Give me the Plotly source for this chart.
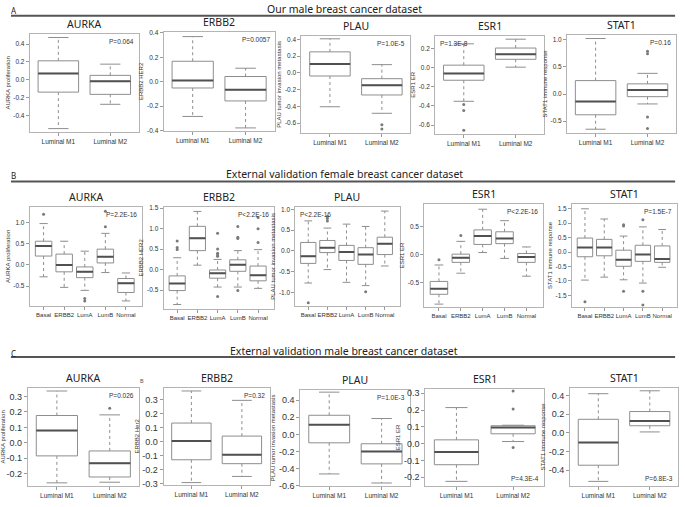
import plotly.graph_objects as go

# ---------------- DATA ----------------
M_GROUPS = ["Luminal M1", "Luminal M2"]
F_GROUPS = ["Basal", "ERBB2", "LumA", "LumB", "Normal"]

# Row A : Our male breast cancer dataset
A_AURKA_lo = [-0.543, -0.272]; A_AURKA_q1 = [-0.136, -0.161]; A_AURKA_med = [0.073, -0.015]
A_AURKA_q3 = [0.213, 0.051]; A_AURKA_hi = [0.473, 0.176]
A_AURKA_ox = []; A_AURKA_oy = []

A_ERBB2_lo = [-0.284, -0.378]; A_ERBB2_q1 = [-0.051, -0.157]; A_ERBB2_med = [0.011, -0.065]
A_ERBB2_q3 = [0.168, 0.043]; A_ERBB2_hi = [0.370, 0.111]
A_ERBB2_ox = []; A_ERBB2_oy = []

A_PLAU_lo = [-0.405, -0.483]; A_PLAU_q1 = [-0.037, -0.264]; A_PLAU_med = [0.107, -0.147]
A_PLAU_q3 = [0.252, -0.069]; A_PLAU_hi = [0.408, 0.099]
A_PLAU_ox = [1, 1]; A_PLAU_oy = [-0.62, -0.67]

A_ESR1_lo = [-0.352, 0.003]; A_ESR1_q1 = [-0.133, 0.085]; A_ESR1_med = [-0.062, 0.137]
A_ESR1_q3 = [0.024, 0.202]; A_ESR1_hi = [0.246, 0.294]
A_ESR1_ox = [0, 0, 0]; A_ESR1_oy = [-0.386, -0.448, -0.653]

A_STAT1_lo = [-0.648, -0.182]; A_STAT1_q1 = [-0.382, -0.048]; A_STAT1_med = [-0.139, 0.073]
A_STAT1_q3 = [0.248, 0.188]; A_STAT1_hi = [1.024, 0.382]
A_STAT1_ox = [1, 1, 1, 1]; A_STAT1_oy = [0.79, 0.745, -0.424, -0.636]

# Row B : External validation female breast cancer dataset
B_AURKA_lo = [-0.28, -0.53, -0.60, -0.18, -0.85]; B_AURKA_q1 = [0.21, -0.163, -0.30, 0.047, -0.65]
B_AURKA_med = [0.45, 0.0, -0.163, 0.194, -0.43]; B_AURKA_q3 = [0.56, 0.256, -0.047, 0.373, -0.32]
B_AURKA_hi = [0.977, 0.56, 0.326, 0.746, -0.19]
B_AURKA_ox = [0, 2, 2, 3, 3]; B_AURKA_oy = [1.2, -0.79, -0.85, 0.90, 1.27]

B_ERBB2_lo = [-0.85, 0.11, -0.424, -0.424, -0.456]; B_ERBB2_q1 = [-0.51, 0.464, -0.208, -0.04, -0.272]
B_ERBB2_med = [-0.336, 0.768, -0.088, 0.12, -0.136]; B_ERBB2_q3 = [-0.152, 1.056, -0.008, 0.24, 0.088]
B_ERBB2_hi = [0.29, 1.42, 0.25, 0.464, 0.488]
B_ERBB2_ox = [0, 0, 0, 2, 2, 2, 2, 2, 2, 3, 3, 3, 3, 4, 4, 4]
B_ERBB2_oy = [0.70, 0.54, 0.49, 0.888, 0.504, 0.40, 0.36, 0.328, -0.656, 1.05, 0.79, 0.76, -0.51, 1.27, 1.0, 0.664]

B_PLAU_lo = [-0.772, -0.449, -0.756, -0.835, -0.362]; B_PLAU_q1 = [-0.30, -0.039, -0.228, -0.323, -0.087]
B_PLAU_med = [-0.126, 0.079, -0.024, -0.087, 0.173]; B_PLAU_q3 = [0.205, 0.252, 0.134, 0.079, 0.331]
B_PLAU_hi = [0.724, 0.551, 0.646, 0.59, 0.96]
B_PLAU_ox = [0, 1, 1, 1, 3]; B_PLAU_oy = [-1.25, 0.83, 0.78, 0.72, -0.984]

B_ESR1_lo = [-0.888, -0.335, 0.035, -0.07, -0.388]; B_ESR1_q1 = [-0.712, -0.141, 0.18, 0.194, -0.141]
B_ESR1_med = [-0.612, -0.059, 0.33, 0.288, -0.047]; B_ESR1_q3 = [-0.482, 0.006, 0.44, 0.406, 0.018]
B_ESR1_hi = [-0.188, 0.235, 0.81, 0.605, 0.135]
B_ESR1_ox = [0, 1]; B_ESR1_oy = [-0.094, 0.34]

B_STAT1_lo = [-0.975, -0.872, -0.964, -1.078, -0.53]; B_STAT1_q1 = [-0.165, -0.131, -0.496, -0.325, -0.359]
B_STAT1_med = [0.154, 0.154, -0.268, -0.086, -0.245]; B_STAT1_q3 = [0.485, 0.439, 0.063, 0.234, 0.211]
B_STAT1_hi = [1.5, 1.146, 0.553, 0.872, 0.781]
B_STAT1_ox = [0, 2, 2, 2, 3, 3, 3]; B_STAT1_oy = [-1.73, 0.95, 0.90, -1.36, 1.12, -1.36, -1.84]

# Row C : External validation male breast cancer dataset
C_AURKA_lo = [-0.26, -0.256]; C_AURKA_q1 = [-0.085, -0.222]; C_AURKA_med = [0.079, -0.132]
C_AURKA_q3 = [0.177, -0.053]; C_AURKA_hi = [0.336, 0.181]
C_AURKA_ox = [1]; C_AURKA_oy = [0.224]

C_ERBB2_lo = [-0.292, -0.248]; C_ERBB2_q1 = [-0.129, -0.157]; C_ERBB2_med = [0.005, -0.093]
C_ERBB2_q3 = [0.133, 0.04]; C_ERBB2_hi = [0.362, 0.295]
C_ERBB2_ox = []; C_ERBB2_oy = []

C_PLAU_lo = [-0.464, -0.57]; C_PLAU_q1 = [-0.099, -0.346]; C_PLAU_med = [0.114, -0.20]
C_PLAU_q3 = [0.224, -0.11]; C_PLAU_hi = [0.495, 0.186]
C_PLAU_ox = []; C_PLAU_oy = []

C_ESR1_lo = [-0.224, 0.013]; C_ESR1_q1 = [-0.125, 0.059]; C_ESR1_med = [-0.05, 0.096]
C_ESR1_q3 = [0.023, 0.107]; C_ESR1_hi = [0.215, 0.11]
C_ESR1_ox = [1, 1, 1]; C_ESR1_oy = [0.314, 0.207, -0.023]

C_STAT1_lo = [-0.519, 0.01]; C_STAT1_q1 = [-0.346, 0.076]; C_STAT1_med = [-0.104, 0.128]
C_STAT1_q3 = [0.145, 0.228]; C_STAT1_hi = [0.419, 0.45]
C_STAT1_ox = []; C_STAT1_oy = []

GENES = ["AURKA", "ERBB2", "PLAU", "ESR1", "STAT1"]
A_YTITLES = ["AURKA proliferation", "ERBB2 HER2", "PLAU tumor invasion metastasis", "ESR1 ER", "STAT1 immune response"]
C_YTITLES = ["AURKA proliferation", "ERBB2 Her2", "PLAU tumor invasion metastasis", "ESR1 ER", "STAT1 immune response"]

A_PVALS = ["P=0.064", "P=0.0057", "P=1.0E-5", "P=1.3E-8", "P=0.16"]
B_PVALS = ["P=2.2E-16", "P<2.2E-16", "P<2.2E-16", "P<2.2E-16", "P=1.5E-7"]
C_PVALS = ["P=0.026", "P=0.32", "P=1.0E-3", "P=4.3E-4", "P=6.8E-3"]

A_YTICKS = [[-0.4, -0.2, 0.0, 0.2, 0.4], [-0.4, -0.2, 0.0, 0.2, 0.4], [-0.6, -0.4, -0.2, 0.0, 0.2, 0.4],
            [-0.6, -0.4, -0.2, 0.0, 0.2], [-0.5, 0.0, 0.5, 1.0]]
B_YTICKS = [[-0.5, 0.0, 0.5, 1.0], [-0.5, 0.0, 0.5, 1.0, 1.5], [-1.0, -0.5, 0.0, 0.5, 1.0],
            [-0.5, 0.0, 0.5], [-1.5, -1.0, -0.5, 0.0, 0.5, 1.0, 1.5]]
C_YTICKS = [[-0.2, -0.1, 0.0, 0.1, 0.2, 0.3], [-0.3, -0.2, -0.1, 0.0, 0.1, 0.2, 0.3],
            [-0.6, -0.4, -0.2, 0.0, 0.2, 0.4], [-0.2, -0.1, 0.0, 0.1, 0.2, 0.3], [-0.4, -0.2, 0.0, 0.2, 0.4]]

A_YRANGES = [[-0.583, 0.517], [-0.405, 0.411], [-0.721, 0.447], [-0.694, 0.332], [-0.721, 1.097]]
B_YRANGES = [[-0.964, 1.365], [-0.952, 1.524], [-1.32, 1.055], [-0.935, 0.90], [-1.90, 1.66]]
C_YRANGES = [[-0.282, 0.358], [-0.311, 0.386], [-0.608, 0.525], [-0.253, 0.328], [-0.571, 0.484]]

SECTION_LETTERS = ["A", "B", "C"]
SECTION_TITLES = ["Our male breast cancer dataset",
                  "External validation female breast cancer dataset",
                  "External validation male breast cancer dataset"]

# ---------------- LAYOUT (pixel frames) ----------------
W, H = 685, 507
FRAMES = {
    "A": [(24, 134, 31, 131), (159, 271, 29, 130), (298, 408, 33, 132), (433, 543, 33, 133), (566, 676, 32, 132)],
    "B": [(24, 137, 207, 307), (159, 270, 207, 310), (292, 397, 207, 307), (422, 542, 204, 308), (571, 677, 204, 308)],
    "C": [(22, 134, 390, 490), (159, 266, 390, 489), (297, 408, 392, 490), (423, 543, 391, 490), (569, 678, 390, 490)],
}
PCORNER = {
    "A": ["tr", "tr", "tr", "tl", "tr"],
    "B": ["tr", "tr", "tl", "tr", "tr"],
    "C": ["tr", "tr", "tr", "br", "br"],
}
HEADER_Y = {"A": (6, 13), "B": (173, 181), "C": (353, 359)}   # (text y, line y)

g = globals()
fig = go.Figure()
layout = dict(width=W, height=H, margin=dict(l=0, r=0, t=0, b=0),
              paper_bgcolor="white", plot_bgcolor="white", showlegend=False)
annotations = []
shapes = []

BOXLINE = "#8e8e8e"
MEDCOL = "#505050"
TICKFONT = "Liberation Sans"

def fmt(v):
    return "%.1f" % v

idx = 0
for row in ["A", "B", "C"]:
    groups = M_GROUPS if row != "B" else F_GROUPS
    ngr = len(groups)
    yticks = g[row + "_YTICKS"]
    yranges = g[row + "_YRANGES"]
    pvals = g[row + "_PVALS"]
    ytitles = C_YTITLES if row == "C" else A_YTITLES
    for k, gene in enumerate(GENES):
        idx += 1
        key = "%s_%s_" % (row, gene)
        lo, q1, med, q3, hi = (g[key + s] for s in ["lo", "q1", "med", "q3", "hi"])
        ox, oy = g[key + "ox"], g[key + "oy"]
        pos = list(range(1, ngr + 1))
        bw = 0.78 if ngr == 2 else 0.8
        cap = bw * 0.25
        xa = "x" if idx == 1 else "x%d" % idx
        ya = "y" if idx == 1 else "y%d" % idx
        wx, wy = [], []
        for p, a, b, c, d in zip(pos, lo, q1, q3, hi):
            wx += [p, p, None, p, p, None]
            wy += [c, d, None, b, a, None]
        fig.add_trace(go.Scatter(x=wx, y=wy, mode="lines", xaxis=xa, yaxis=ya,
                                 line=dict(color=BOXLINE, width=1, dash="dot"), hoverinfo="skip"))
        fig.add_trace(go.Box(x=pos, q1=q1, median=med, q3=q3, lowerfence=q1, upperfence=q3,
                             width=bw, whiskerwidth=0, fillcolor="white", boxpoints=False,
                             line=dict(color=BOXLINE, width=1), xaxis=xa, yaxis=ya, hoverinfo="skip"))
        cx, cy = [], []
        for p, a, d in zip(pos, lo, hi):
            cx += [p - cap, p + cap, None, p - cap, p + cap, None]
            cy += [d, d, None, a, a, None]
        fig.add_trace(go.Scatter(x=cx, y=cy, mode="lines", xaxis=xa, yaxis=ya,
                                 line=dict(color=BOXLINE, width=1), hoverinfo="skip"))
        mx, my = [], []
        for p, m in zip(pos, med):
            mx += [p - bw / 2, p + bw / 2, None]
            my += [m, m, None]
        fig.add_trace(go.Scatter(x=mx, y=my, mode="lines", xaxis=xa, yaxis=ya,
                                 line=dict(color=MEDCOL, width=2), hoverinfo="skip"))
        if ox:
            fig.add_trace(go.Scatter(x=[pos[i] for i in ox], y=oy, mode="markers", xaxis=xa, yaxis=ya,
                                     marker=dict(color="#7a7a7a", size=3), hoverinfo="skip"))
        l, r, t, b = FRAMES[row][k]
        tick_sz = 9 if row == "C" else 6.5
        xr = [0.45, 2.55] if ngr == 2 else [0.33, 5.77]
        axcommon = dict(showline=True, mirror=True, linecolor="#b4b4b4", linewidth=1,
                        showgrid=False, zeroline=False, ticks="outside", ticklen=3,
                        tickcolor="#999999")
        layout["xaxis" if idx == 1 else "xaxis%d" % idx] = dict(
            domain=[l / W, r / W], anchor=ya, range=xr, tickvals=pos, ticktext=groups, tickangle=0,
            tickfont=dict(family=TICKFONT, size=6 if ngr == 5 else 6.5, color="#333"), **axcommon)
        layout["yaxis" if idx == 1 else "yaxis%d" % idx] = dict(
            domain=[1 - b / H, 1 - t / H], anchor=xa, range=yranges[k],
            tickvals=yticks[k], ticktext=[fmt(v) for v in yticks[k]],
            tickfont=dict(family=TICKFONT, size=tick_sz, color="#333"),
            title=dict(text=ytitles[k], font=dict(family=TICKFONT, size=6, color="#333"), standoff=2),
            **axcommon)
        annotations.append(dict(text=gene, x=(l + r) / 2 / W, y=1 - (t - 1) / H, xref="paper", yref="paper",
                                xanchor="center", yanchor="bottom", showarrow=False,
                                font=dict(family="Noto Sans", size=10.5, color="#222")))
        corner = PCORNER[row][k]
        px_ = (r - 3) / W if corner[1] == "r" else (l + 3) / W
        py_ = 1 - (t + 2) / H if corner[0] == "t" else 1 - (b - 2) / H
        annotations.append(dict(text=pvals[k], x=px_, y=py_, xref="paper", yref="paper",
                                xanchor="right" if corner[1] == "r" else "left",
                                yanchor="top" if corner[0] == "t" else "bottom", showarrow=False,
                                font=dict(family=TICKFONT, size=6.5, color="#333")))

for row, letter, title in zip(["A", "B", "C"], SECTION_LETTERS, SECTION_TITLES):
    ty, ly = HEADER_Y[row]
    annotations.append(dict(text=letter, x=3 / W, y=1 - (ty + 2) / H, xref="paper", yref="paper",
                            xanchor="left", yanchor="middle", showarrow=False,
                            font=dict(family="Noto Sans", size=8, color="#222")))
    annotations.append(dict(text=title, x=341 / W, y=1 - ty / H, xref="paper", yref="paper",
                            xanchor="center", yanchor="middle", showarrow=False,
                            font=dict(family="Noto Sans", size=10.5, color="#222")))
    shapes.append(dict(type="line", xref="paper", yref="paper", x0=5 / W, x1=675 / W,
                       y0=1 - ly / H, y1=1 - ly / H, line=dict(color="#555", width=2)))

annotations.append(dict(text="B", x=137 / W, y=1 - 383 / H, xref="paper", yref="paper",
                        xanchor="center", yanchor="middle", showarrow=False,
                        font=dict(family=TICKFONT, size=5.5, color="#555")))

layout["annotations"] = annotations
layout["shapes"] = shapes
fig.update_layout(**layout)
fig.write_html("out.html", config={"displayModeBar": False},
               post_script="document.body.style.margin='0';document.body.style.overflow='hidden';")
